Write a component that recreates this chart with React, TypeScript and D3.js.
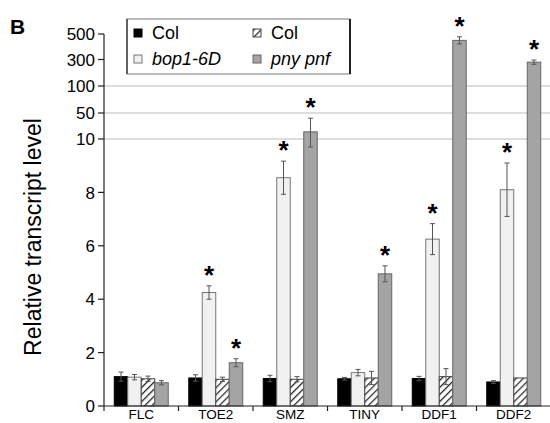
import React from 'react';
import * as d3 from 'd3';

// genes on the x axis
const genes = ['FLC', 'TOE2', 'SMZ', 'TINY', 'DDF1', 'DDF2'];
const seriesNames = ['Col', 'bop1-6D', 'Col', 'pny pnf'];
const seriesItalic = [false, true, false, true];

// relative transcript levels
const colA = [1.1, 1.05, 1.03, 1.02, 1.03, 0.9];
const bop = [1.08, 4.25, 8.55, 1.25, 6.25, 8.1];
const colB = [1.02, 1.0, 1.0, 1.05, 1.1, 1.05];
const pny = [0.87, 1.62, 21, 4.95, 450, 280];

// error bar sizes (up / down)
const colAErr = [0.17, 0.12, 0.12, 0.05, 0.08, 0.05];
const bopErr = [0.1, 0.25, 0.62, 0.12, 0.58, 1.0];
const colBErr = [0.1, 0.08, 0.1, 0.25, 0.3, 0];
const pnyErrUp = [0.08, 0.15, 21, 0.3, 28, 16];
const pnyErrDown = [0.08, 0.15, 11.3, 0.3, 28, 16];

// significance marks
const starBop = [false, true, true, false, true, true];
const starPny = [false, true, true, true, true, true];

const yTicks = [0, 2, 4, 6, 8, 10, 50, 100, 300, 500];
const gridTicks = [10, 50, 100];

export default function App() {
  const W = 550;
  const H = 423;
  const left = 104;
  const right = 551;
  const base = 406;

  // broken axis: linear 0-10, then evenly spaced upper labels
  const y = d3.scaleLinear()
    .domain([0, 10, 50, 100, 300, 500])
    .range([base, 139, 113, 86, 59.5, 34]);

  const x = d3.scaleBand().domain(genes).range([left, right]);
  const xs = d3.scaleBand<number>()
    .domain([0, 1, 2, 3])
    .range([0, x.bandwidth()])
    .paddingInner(0)
    .paddingOuter(0.76);

  const values = [colA, bop, colB, pny];
  const errUp = [colAErr, bopErr, colBErr, pnyErrUp];
  const errDown = [colAErr, bopErr, colBErr, pnyErrDown];
  const fills = ['#000', '#f1f1f1', 'url(#hatch)', '#a4a4a4'];
  const strokes = ['#000', '#777', '#444', '#666'];
  const stars = [null, starBop, null, starPny];

  const font = 'Liberation Sans, Arial, sans-serif';

  const legendPos = [
    { x: 134, y: 33 },
    { x: 134, y: 59 },
    { x: 253, y: 33 },
    { x: 253, y: 59 },
  ];

  return (
    <svg
      width={W}
      height={H}
      style={{ position: 'absolute', left: 0, top: 0, background: '#fff' }}
      fontFamily={font}
    >
      <defs>
        <pattern id="hatch" patternUnits="userSpaceOnUse" width="5" height="5" patternTransform="rotate(45)">
          <rect width="5" height="5" fill="#fff" />
          <line x1="0" y1="0" x2="0" y2="5" stroke="#222" strokeWidth="2.5" />
        </pattern>
      </defs>

      {/* panel letter */}
      <text x={10} y={34} fontSize={21} fontWeight="bold">B</text>

      {/* y label */}
      <text
        transform={`translate(41,${237}) rotate(-90)`}
        textAnchor="middle"
        fontSize={23}
      >
        Relative transcript level
      </text>

      {/* grid */}
      {gridTicks.map((t) => (
        <line key={t} x1={left} x2={right} y1={y(t)} y2={y(t)} stroke="#bbb" strokeWidth={1.2} />
      ))}

      {/* bars */}
      {genes.map((g, gi) => (
        <g key={g} transform={`translate(${x(g)},0)`}>
          {values.map((vals, si) => {
            const v = vals[gi];
            const bx = xs(si)!;
            const bw = xs.bandwidth();
            const top = y(v);
            const eu = errUp[si][gi];
            const ed = errDown[si][gi];
            const yHi = y(v + eu);
            const yLo = y(v - ed);
            const cx = bx + bw / 2;
            const st = stars[si];
            return (
              <g key={si}>
                <rect x={bx} y={top} width={bw} height={base - top} fill={fills[si]} stroke={strokes[si]} strokeWidth={1} />
                {eu > 0 && (
                  <g stroke="#555" strokeWidth={1}>
                    <line x1={cx} x2={cx} y1={yHi} y2={yLo} />
                    <line x1={cx - 2.5} x2={cx + 2.5} y1={yHi} y2={yHi} />
                    <line x1={cx - 2.5} x2={cx + 2.5} y1={yLo} y2={yLo} />
                  </g>
                )}
                {st && st[gi] && (
                  <text x={cx} y={yHi - 2} textAnchor="middle" fontSize={26} fontWeight="bold">*</text>
                )}
              </g>
            );
          })}
        </g>
      ))}

      {/* y axis */}
      <line x1={left} x2={left} y1={y(500)} y2={base} stroke="#222" strokeWidth={1.2} />
      {yTicks.map((t) => (
        <g key={t}>
          <line x1={left - 6} x2={left} y1={y(t)} y2={y(t)} stroke="#222" strokeWidth={1.2} />
          <text x={left - 9} y={y(t)} dy="0.36em" textAnchor="end" fontSize={17}>{t}</text>
        </g>
      ))}

      {/* x axis */}
      <line x1={left} x2={right} y1={base} y2={base} stroke="#222" strokeWidth={1.2} />
      {genes.map((g) => (
        <g key={g}>
          <line x1={x(g)!} x2={x(g)!} y1={base} y2={base + 5} stroke="#222" strokeWidth={1.2} />
          <text x={x(g)! + x.bandwidth() / 2} y={419} textAnchor="middle" fontSize={13.5}>{g}</text>
        </g>
      ))}

      {/* legend */}
      <rect x={127} y={19} width={223} height={55} fill="#fff" stroke="#777" strokeWidth={1} />
      <line x1={350} x2={350} y1={19} y2={74} stroke="#222" strokeWidth={2} />
      <line x1={127} x2={127} y1={19} y2={74} stroke="#444" strokeWidth={1.5} />
      {seriesNames.map((n, i) => {
        const p = legendPos[i];
        return (
          <g key={i}>
            <rect x={p.x} y={p.y - 4} width={8} height={8} fill={fills[i]} stroke={strokes[i]} strokeWidth={1} />
            <text x={p.x + 18} y={p.y} dy="0.35em" fontSize={18} fontStyle={seriesItalic[i] ? 'italic' : 'normal'}>
              {n}
            </text>
          </g>
        );
      })}
    </svg>
  );
}
